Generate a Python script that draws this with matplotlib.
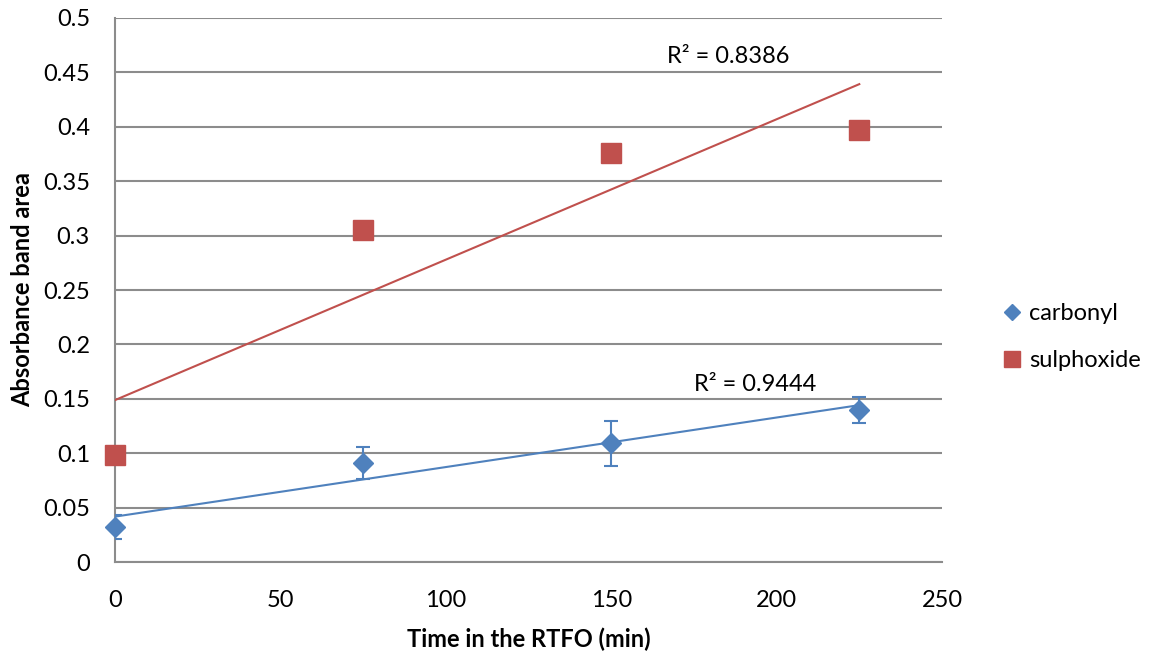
import numpy as np
import matplotlib.pyplot as plt

plt.rcParams['font.family'] = ['Lato', 'DejaVu Sans']

# RTFO ageing time (min) and measured band areas
time_min = [0, 75, 150, 225]
carbonyl = [0.032, 0.091, 0.109, 0.13985]
carbonyl_err = [0.011, 0.015, 0.021, 0.012]
sulphoxide = [0.098, 0.305, 0.376, 0.397]

blue = '#4F81BD'
red = '#C0504D'
grid_grey = '#8C8C8C'


def r_squared(x, y, coef):
    y = np.asarray(y)
    fit = np.polyval(coef, x)
    return 1 - np.sum((y - fit) ** 2) / np.sum((y - y.mean()) ** 2)


fig = plt.figure(figsize=(11.53, 6.52), dpi=100)
ax = fig.add_axes([0.0997, 0.138, 0.7173, 0.8344])

x = np.array(time_min, dtype=float)
c_coef = np.polyfit(x, carbonyl, 1)
s_coef = np.polyfit(x, sulphoxide, 1)
xfit = np.array([x.min(), x.max()])

ax.plot(xfit, np.polyval(s_coef, xfit), color=red, lw=1.5, zorder=3)
ax.plot(xfit, np.polyval(c_coef, xfit), color=blue, lw=1.5, zorder=3)

ax.errorbar(time_min, carbonyl, yerr=carbonyl_err, fmt='none', ecolor=blue,
            elinewidth=1.5, capsize=5, capthick=1.5, zorder=4)
ax.plot(time_min, carbonyl, 'D', color=blue, ms=10.5, mec=blue, zorder=5,
        clip_on=False, label='carbonyl')
ax.plot(time_min, sulphoxide, 's', color=red, ms=14, mec=red, zorder=5,
        clip_on=False, label='sulphoxide')

# R² labels for the two linear trendlines
ax.text(185.5, 0.465, 'R² = %.4f' % r_squared(x, sulphoxide, s_coef),
        fontsize=17, ha='center', va='center')
ax.text(193.5, 0.1635, 'R² = %.4f' % r_squared(x, carbonyl, c_coef),
        fontsize=17, ha='center', va='center')

ax.set_xlim(0, 250)
ax.set_ylim(0, 0.5)
ax.set_xticks(np.arange(0, 251, 50))
ax.set_yticks(np.arange(0, 0.501, 0.05))
ax.set_yticklabels(['0', '0.05', '0.1', '0.15', '0.2', '0.25', '0.3', '0.35',
                    '0.4', '0.45', '0.5'])
ax.tick_params(length=0, labelsize=17)
ax.tick_params(axis='y', pad=18)
ax.tick_params(axis='x', pad=20)

ax.yaxis.grid(True, color=grid_grey, lw=1.5)
ax.set_axisbelow(True)
for side in ['top', 'right']:
    ax.spines[side].set_visible(False)
for side in ['left', 'bottom']:
    ax.spines[side].set_color(grid_grey)
    ax.spines[side].set_linewidth(1.5)

ax.set_xlabel('Time in the RTFO (min)', fontsize=17, fontweight='bold',
              labelpad=12)
ax.set_ylabel('Absorbance band area', fontsize=17, fontweight='bold',
              labelpad=6)

ax.legend(loc='center left', bbox_to_anchor=(1.048, 0.414), frameon=False,
          fontsize=17, handlelength=0.8, handletextpad=0.3, labelspacing=1.1,
          markerscale=0.8)

fig.savefig('out.png', dpi=100)
